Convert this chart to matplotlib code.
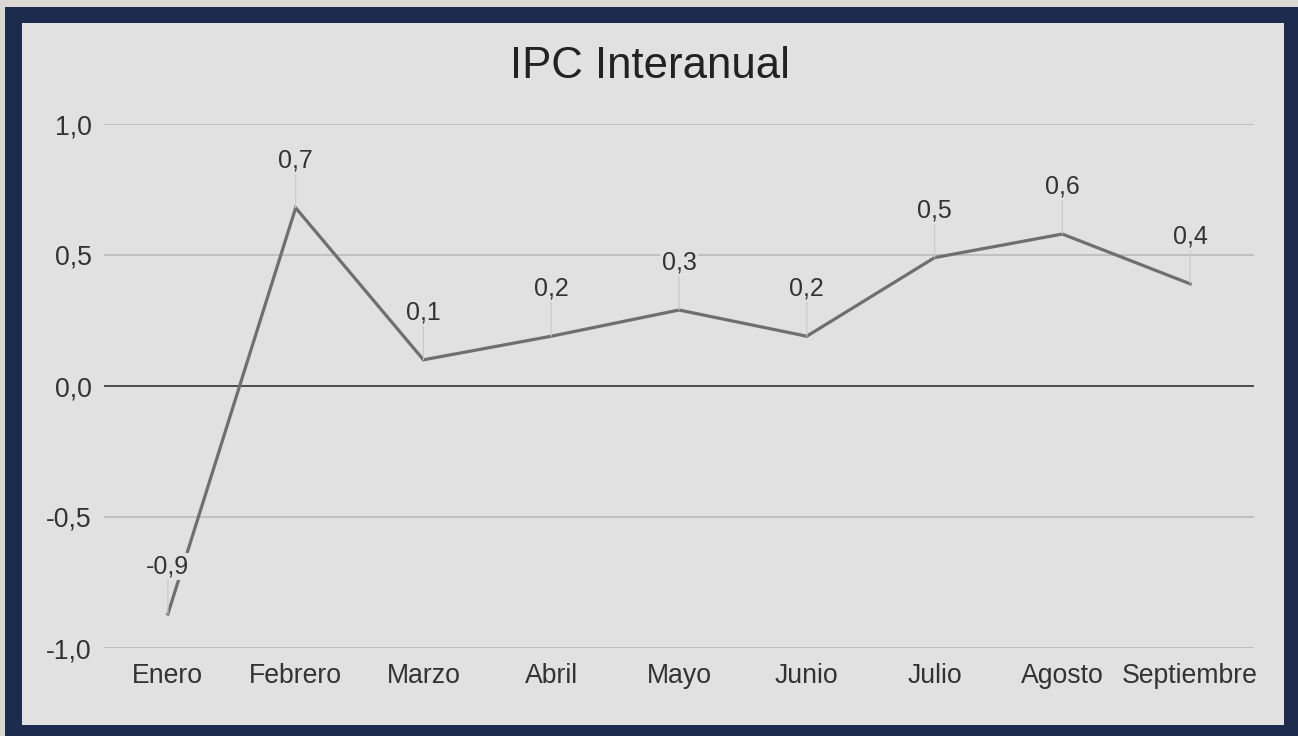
import matplotlib.pyplot as plt
from matplotlib.patches import Rectangle

meses = ['Enero', 'Febrero', 'Marzo', 'Abril', 'Mayo', 'Junio', 'Julio', 'Agosto', 'Septiembre']
ipc = [-0.87, 0.68, 0.10, 0.19, 0.29, 0.19, 0.49, 0.58, 0.39]
etiquetas = ['-0,9', '0,7', '0,1', '0,2', '0,3', '0,2', '0,5', '0,6', '0,4']
y_ticks = [-1.0, -0.5, 0.0, 0.5, 1.0]
y_labels = ['-1,0', '-0,5', '0,0', '0,5', '1,0']

panel = '#e1e1e1'
navy = '#1d2b4f'

plt.rcParams['font.family'] = ['Liberation Sans', 'DejaVu Sans']

W, H = 1298, 736
fig = plt.figure(figsize=(W / 100, H / 100), dpi=100, facecolor='#dbd8d3')

# marco azul y panel gris
fig.patches.append(Rectangle((5 / W, 0), 1 - 5 / W, 1 - 7 / H, transform=fig.transFigure,
                             facecolor=navy, edgecolor='none', zorder=0))
fig.patches.append(Rectangle((22 / W, 11 / H), (1284 - 22) / W, (725 - 23) / H, transform=fig.transFigure,
                             facecolor=panel, edgecolor='none', zorder=1))

ax = fig.add_axes([104 / W, 88 / H, 1150 / W, 524 / H])
ax.set_zorder(5)
ax.set_facecolor('none')

x = list(range(len(meses)))
ax.plot(x, ipc, color='#6f6f6f', lw=2.3, zorder=3, solid_joinstyle='miter')

for xi, yi, lab in zip(x, ipc, etiquetas):
    ax.annotate(lab, (xi, yi), xytext=(0, 29), textcoords='offset points',
                ha='center', va='baseline', fontsize=18, color='#333333', zorder=5,
                bbox=dict(boxstyle='square,pad=0.05', facecolor=panel, edgecolor='none'),
                arrowprops=dict(arrowstyle='-', color='#c9c9c9', lw=0.8,
                                shrinkA=0, shrinkB=0, relpos=(0.5, 0)))

ax.set_xlim(-0.5, len(meses) - 0.5)
ax.set_ylim(-1.0, 1.0)
ax.set_yticks(y_ticks)
ax.set_yticklabels(y_labels)
ax.set_xticks(x)
ax.set_xticklabels(meses)
ax.grid(axis='y', color='#bdbdbd', lw=1.3, zorder=1)
ax.axhline(0, color='#3a3a3a', lw=1.2, zorder=2)
ax.set_axisbelow(True)

ax.tick_params(axis='both', length=0, labelsize=19.2, colors='#333333')
ax.tick_params(axis='y', pad=9)
ax.tick_params(axis='x', pad=11)
for s in ax.spines.values():
    s.set_visible(False)

fig.text(650 / W, 1 - 78 / H, 'IPC Interanual', ha='center', va='baseline',
         fontsize=31.5, color='#222222')

fig.savefig('out.png', dpi=100, facecolor=fig.get_facecolor())
